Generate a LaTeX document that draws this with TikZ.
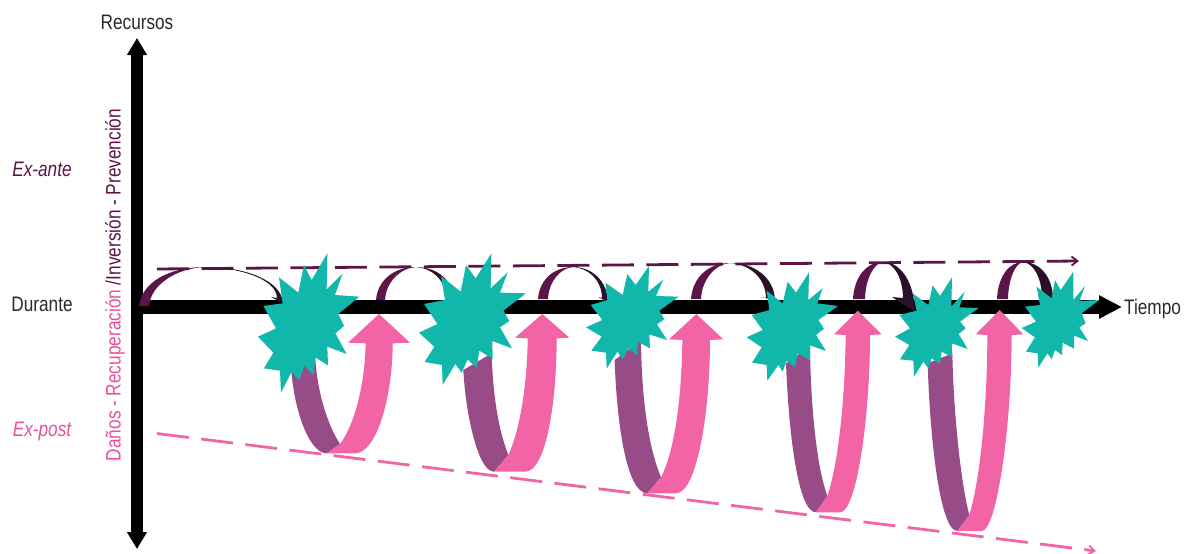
\documentclass[tikz,border=0pt]{standalone}
\usepackage{fontspec}
\setmainfont[FakeStretch=0.82]{Liberation Sans}
\usetikzlibrary{arrows.meta}
\definecolor{plum}{HTML}{5C1549}
\definecolor{plumdark}{HTML}{2B1029}
\definecolor{mauve}{HTML}{974B87}
\definecolor{rosa}{HTML}{F264A6}
\definecolor{rosatext}{HTML}{E8509B}
\definecolor{teal}{HTML}{10B7AA}
\definecolor{labelgray}{HTML}{2A2A2A}
\tikzset{
  axisline/.style={line width=#1,black,{Triangle[length=17pt,width=19pt]}-{Triangle[length=17pt,width=19pt]}},
  timeline/.style={line width=14.5pt,black,-{Triangle[length=23pt,width=22pt]}},
  trendup/.style={plum,line width=2.8pt,dash pattern=on 32pt off 12.5pt,-{Straight Barb[length=6pt,width=9pt,line width=1.8pt]}},
  trenddown/.style={rosa,line width=2.8pt,dash pattern=on 32pt off 12.5pt,-{Straight Barb[length=6pt,width=9pt,line width=1.8pt]}},
  burst/.style={fill=teal},
  txt/.style={font=\fontsize{21}{23}\selectfont,text=labelgray,inner sep=0pt},
  zoomthree/.style={x=0.33333pt,y=-0.33333pt}
}
% \def\hin{inner right x}, \hump{base outer x}{base inner x}{base y}{top x}{top y}{tip x}{tip y}{barb x}{barb y}
\newcommand{\hump}[9]{%
  \fill[plum] (#1,#3) .. controls ({#1+0.04*(#4-#1)},{#3+0.6*(#5-#3)}) and ({#4-0.55*(#4-#1)},#5) .. (#4,#5)
     .. controls ({#4-0.5*(#4-#2)},{#5+1}) and ({#2+0.03*(#4-#2)},{#3+0.55*(#5-#3)}) .. (#2,#3) -- cycle;
  \fill[plumdark] (#4,#5) .. controls ({#4+0.55*(#6-#4)},#5) and ({#6-0.02*(#6-#4)},{#7+0.6*(#5-#7)}) .. (#6,#7)
     -- (#8,#9) -- (\hin,{#9+1}) .. controls ({\hin-0.01*(#6-#4)},{#9+0.6*(#5-#9)}) and ({#4+0.5*(\hin-#4)},{#5+1}) .. (#4,#5) -- cycle;
}
\begin{document}
\begin{tikzpicture}[x=1pt,y=-1pt]
\useasboundingbox (0,0) rectangle (1189,554);
\coordinate (vtop) at (137,38);
\coordinate (vbot) at (137,549);
\coordinate (horg) at (131,307);
\coordinate (hend) at (1122,307);
\coordinate (pa) at (157,269);
\coordinate (pb) at (1079,261);
\coordinate (ra) at (157,433.5);
\coordinate (rb) at (1096,551);
% dashed trends
\draw[trendup] (pa) -- (pb);
\draw[trenddown] (ra) -- (rb);
% axes
\draw[axisline=12pt] (vbot) -- (vtop);
\draw[timeline] (horg) -- (hend);
% top humps
\def\hin{277}\hump{139}{149}{306}{205}{267}{283}{303}{271}{297}
\def\hin{446}\hump{376}{385}{300}{416}{267}{454}{300}{445}{297}
\def\hin{602}\hump{538}{548}{299}{573}{267}{608}{302}{598}{297}
\def\hin{766}\hump{691}{701}{299}{730}{263}{775}{300}{760}{297}
\def\hin{903}\hump{853}{865}{299}{883}{262}{915}{312}{892}{297}
\def\hin{1042}\hump{997}{1008}{299}{1023}{262}{1053}{298}{1038}{297}
% U arrows, zoom coordinates
\begin{scope}[shift={(120,240)},zoomthree]
 \fill[mauve] (513,380) .. controls (520,500) and (565,640) .. (620,640) -- (660,612) .. controls (620,550) and (590,450) .. (585,340) -- cycle;
 \fill[rosa] (620,640) -- (705,640) .. controls (770,640) and (818,470) .. (818,310) -- (870,308) -- (777,222) -- (684,308) -- (737,310) .. controls (735,440) and (700,560) .. (660,612) -- cycle;
\end{scope}
\begin{scope}[shift={(420,240)},zoomthree]
 \fill[mauve] (130,390) .. controls (135,500) and (170,695) .. (222,695) -- (265,645) .. controls (235,570) and (218,460) .. (215,340) -- cycle;
 \fill[rosa] (222,695) -- (315,695) .. controls (380,695) and (410,480) .. (410,295) -- (448,293) -- (367,222) -- (285,293) -- (323,295) .. controls (322,430) and (300,570) .. (265,645) -- cycle;
 \fill[mauve] (584,360) .. controls (590,550) and (620,760) .. (682,760) -- (723,712) .. controls (685,620) and (665,480) .. (663,300) -- cycle;
 \fill[rosa] (682,760) -- (768,760) .. controls (830,760) and (870,520) .. (870,300) -- (910,298) -- (829,222) -- (747,298) -- (787,300) .. controls (785,470) and (765,630) .. (723,712) -- cycle;
\end{scope}
\begin{scope}[shift={(740,240)},zoomthree]
 \fill[mauve] (138,370) .. controls (145,550) and (170,817) .. (228,817) -- (262,768) .. controls (230,680) and (212,500) .. (210,320) -- cycle;
 \fill[rosa] (228,817) -- (300,817) .. controls (350,817) and (390,530) .. (390,285) -- (425,283) -- (353,212) -- (282,283) -- (317,285) .. controls (315,480) and (295,670) .. (262,768) -- cycle;
 \fill[mauve] (563,370) .. controls (570,600) and (600,873) .. (652,873) -- (688,825) .. controls (660,720) and (640,500) .. (637,340) -- cycle;
 \fill[rosa] (652,873) -- (725,873) .. controls (770,873) and (815,560) .. (815,285) -- (850,283) -- (779,210) -- (707,283) -- (742,285) .. controls (742,500) and (720,720) .. (688,825) -- cycle;
\end{scope}
% bursts
\begin{scope}[shift={(120,240)},zoomthree]
 \fill[burst] (622,40)--(620,148)--(668,100)--(645,165)--(718,170)--(655,222)--(672,258)--(646,280)--(680,342)--(622,320)--(624,376)--(586,352)--(580,405)--(553,378)--(537,422)--(515,395)--(483,458)--(480,392)--(432,385)--(460,338)--(414,290)--(468,265)--(430,198)--(488,190)--(477,112)--(535,158)--(552,75)--(575,120)--cycle;
\end{scope}
\begin{scope}[shift={(420,240)},zoomthree]
 \fill[burst] (214,40)--(212,145)--(263,97)--(240,158)--(318,160)--(250,212)--(268,243)--(240,262)--(276,325)--(217,303)--(218,357)--(178,332)--(170,384)--(143,358)--(125,398)--(106,372)--(68,435)--(66,375)--(14,366)--(43,320)--(-3,278)--(52,252)--(12,192)--(75,180)--(63,108)--(122,155)--(138,75)--(167,115)--cycle;
 \fill[burst] (687,78)--(685,155)--(729,120)--(708,168)--(776,170)--(718,212)--(733,238)--(711,253)--(741,300)--(688,283)--(690,325)--(655,306)--(650,345)--(625,325)--(608,358)--(592,335)--(560,386)--(558,338)--(514,332)--(545,290)--(498,262)--(547,240)--(512,195)--(562,180)--(556,128)--(608,165)--(622,102)--(647,135)--cycle;
\end{scope}
\begin{scope}[shift={(740,240)},zoomthree]
 \fill[burst] (207,97)--(205,180)--(248,145)--(232,190)--(294,198)--(235,240)--(252,266)--(228,285)--(258,333)--(210,316)--(210,360)--(173,340)--(165,382)--(140,362)--(128,395)--(115,375)--(82,422)--(80,375)--(36,368)--(65,322)--(20,292)--(68,270)--(35,225)--(88,210)--(80,152)--(128,190)--(143,125)--(168,158)--cycle;
 \fill[burst] (636,112)--(634,200)--(674,155)--(658,202)--(716,204)--(660,245)--(677,265)--(656,282)--(683,327)--(635,310)--(637,352)--(605,335)--(600,372)--(575,355)--(565,385)--(550,365)--(522,410)--(520,362)--(480,358)--(508,315)--(465,290)--(510,265)--(478,225)--(530,212)--(518,160)--(565,195)--(578,136)--(600,168)--cycle;
 \fill[burst] (1000,95)--(1000,180)--(1035,138)--(1018,183)--(1078,180)--(1025,220)--(1037,250)--(1018,262)--(1044,303)--(1002,287)--(1002,326)--(968,308)--(966,345)--(945,330)--(935,357)--(922,340)--(895,383)--(893,340)--(858,335)--(885,292)--(845,264)--(888,245)--(855,200)--(900,195)--(890,140)--(935,175)--(945,120)--(962,150)--cycle;
\end{scope}
% labels
\node[txt] (recursos) at (137,22) {Recursos};
\node[txt] (durante) at (42,304) {Durante};
\node[txt,text=plum] (exante) at (42,169) {\itshape Ex-ante};
\node[txt,text=rosatext] (expost) at (42,431) {\itshape Ex-post};
\node[txt,anchor=west] (tiempo) at (1124,309.5) {Tiempo};
\node[txt,rotate=90] (eje) at (115,285) {\textcolor{rosatext}{Daños - Recuperación }\textcolor{plum}{/Inversión - Prevención}};
\end{tikzpicture}
\end{document}
